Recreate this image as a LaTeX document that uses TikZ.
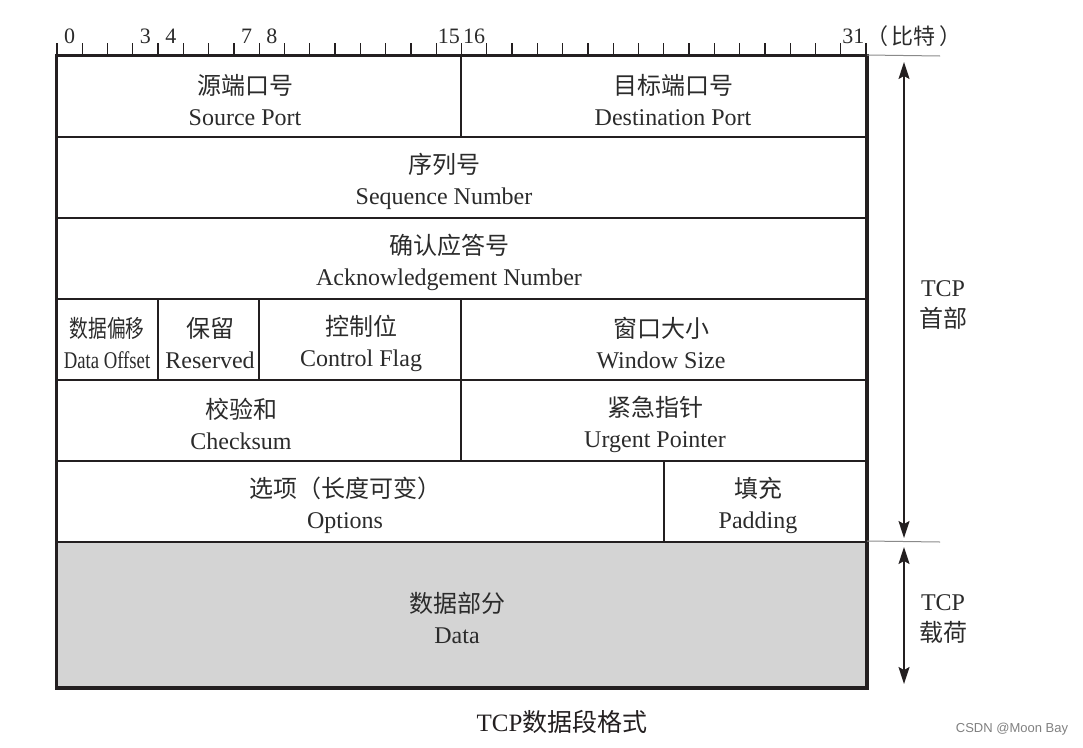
\documentclass[tikz,border=0pt]{standalone}
\usepackage{fontspec}
\setmainfont{Liberation Serif}
\newfontfamily\cjk{Noto Sans CJK SC}
\newfontfamily\wmfont{Liberation Sans}
\usetikzlibrary{arrows.meta}
\definecolor{ink}{HTML}{231F20}
\definecolor{txt}{HTML}{2B2B2B}
\definecolor{datafill}{HTML}{D4D4D4}
\definecolor{extgray}{HTML}{8A8A8A}
\newcommand{\zh}[1]{{\cjk #1}}
\begin{document}
\begin{tikzpicture}[x=1pt,y=-1pt,
  field/.style={draw=ink, line width=2pt, rectangle, inner sep=0pt, minimum height=81pt},
  lbl/.style={inner sep=0pt, align=center, text=txt, font=\fontsize{24}{31}\selectfont},
  outer/.style={draw=ink, line width=3pt},
  tick/.style={draw=ink, line width=1.3pt},
  bitlbl/.style={inner sep=0pt, anchor=base, text=txt, font=\fontsize{22}{22}\selectfont},
  ext/.style={draw=extgray, line width=1pt},
  dim/.style={draw=ink, line width=1.5pt, {Stealth[length=17pt,width=11pt,inset=3pt]}-{Stealth[length=17pt,width=11pt,inset=3pt]}}
]
\useasboundingbox (0,0) rectangle (1083,747);

% field boxes
\node[field, minimum width=404pt] (src) at (259,96.5) {};
\node[field, minimum width=405pt] (dst) at (663.5,96.5) {};
\node[field, minimum width=809pt] (seq) at (461.5,177.5) {};
\node[field, minimum width=809pt] (ack) at (461.5,258.5) {};
\node[field, minimum width=101pt] (off) at (107.5,339.5) {};
\node[field, minimum width=101pt] (res) at (208.5,339.5) {};
\node[field, minimum width=202pt] (flag) at (360,339.5) {};
\node[field, minimum width=405pt] (win) at (663.5,339.5) {};
\node[field, minimum width=404pt] (chk) at (259,420.5) {};
\node[field, minimum width=405pt] (urg) at (663.5,420.5) {};
\node[field, minimum width=607pt] (opt) at (360.5,501.5) {};
\node[field, minimum width=202pt] (pad) at (765,501.5) {};
\node[field, fill=datafill, minimum width=809pt, minimum height=145pt] (data) at (461.5,614.5) {};

% outer frame
\draw[outer] (src.north west) rectangle (data.south east);

% labels
\node[lbl] (srcL) at (245,100) {\zh{源端口号}\\Source Port};
\node[lbl] (dstL) at (673,100) {\zh{目标端口号}\\Destination Port};
\node[lbl] (seqL) at (444,181) {\zh{序列号}\\Sequence Number};
\node[lbl] (ackL) at (449,262) {\zh{确认应答号}\\Acknowledgement Number};
\node[lbl] (offL) at (107,343) {\scalebox{0.78}[1]{\zh{数据偏移}}\\\scalebox{0.78}[1]{Data Offset}};
\node[lbl] (resL) at (210,343) {\zh{保留}\\Reserved};
\node[lbl] (flagL) at (361,343) {\zh{控制位}\\Control Flag};
\node[lbl] (winL) at (661,343) {\zh{窗口大小}\\Window Size};
\node[lbl] (chkL) at (241,424) {\zh{校验和}\\Checksum};
\node[lbl] (urgL) at (655,424) {\zh{紧急指针}\\Urgent Pointer};
\node[lbl] (optL) at (345,505) {\zh{选项（长度可变）}\\Options};
\node[lbl] (padL) at (758,505) {\zh{填充}\\Padding};
\node[lbl] (dataL) at (457,618) {\zh{数据部分}\\Data};

% bit ruler
\foreach \i in {0,...,32} {
  \draw[tick] (57+\i*25.28125,56) -- ++(0,-13);
}
\foreach \n in {0,3,4,7,8,15,16,31} {
  \node[bitlbl] (b\n) at (57+\n*25.28125+12.64,43) {\n};
}
\node[inner sep=0pt, anchor=base west, text=txt, font=\fontsize{22}{22}\selectfont] (unit) at (866,44) {\zh{（\,比特\,）}};

% extension lines
\coordinate (e1) at (940,56);
\coordinate (e2) at (940,542);
\draw[ext] (dst.north east) -- (e1);
\draw[ext] (data.north east) -- (e2);

% dimension arrows
\coordinate (h1) at (904,62);
\coordinate (h2) at (904,538);
\coordinate (p1) at (904,547);
\coordinate (p2) at (904,684);
\draw[dim] (h1) -- (h2);
\draw[dim] (p1) -- (p2);
\node[lbl] (hdrL) at (943,305) {TCP\\\zh{首部}};
\node[lbl] (payL) at (943,619) {TCP\\\zh{载荷}};

% caption and watermark
\node[inner sep=0pt, text=ink, font=\fontsize{25}{25}\selectfont] (cap) at (562,722) {TCP\zh{数据段格式}};
\node[inner sep=0pt, text=gray, font=\wmfont\fontsize{13}{13}\selectfont] (wm) at (1012,729) {CSDN @Moon Bay};
\end{tikzpicture}
\end{document}
